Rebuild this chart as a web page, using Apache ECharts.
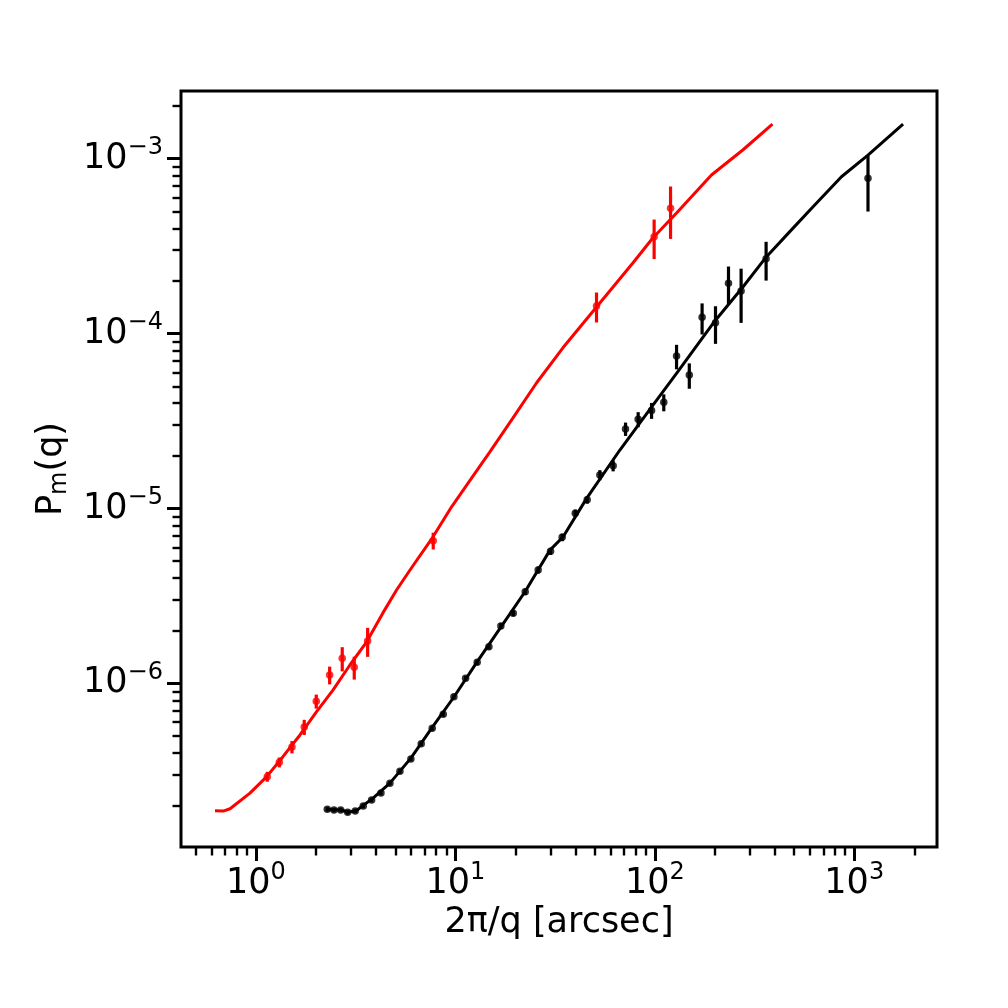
<!DOCTYPE html>
<html>
<head>
<meta charset="utf-8">
<script src="https://cdn.jsdelivr.net/npm/echarts@6/dist/echarts.min.js"></script>
<style>
  html, body { margin: 0; padding: 0; background: #fff; }
  #chart { width: 1008px; height: 1008px; }
</style>
</head>
<body>
<div id="chart"></div>
<script>
// model curves
const redLineX = [0.623, 0.686, 0.741, 0.933, 1.132, 1.365, 1.662, 2.014, 2.432, 2.958, 3.59, 4.33, 5.07, 5.92, 7.71, 9.57, 12.05, 14.89, 19.41, 25.5, 34.6, 53.0, 77.6, 97.7, 128.5, 192.3, 276.1, 389]
const redLineY = [1.87e-7, 1.862e-7, 1.92e-7, 2.36e-7, 2.93e-7, 3.81e-7, 5.07e-7, 6.89e-7, 9.16e-7, 1.274e-6, 1.73e-6, 2.53e-6, 3.42e-6, 4.45e-6, 6.87e-6, 1.023e-5, 1.493e-5, 2.11e-5, 3.29e-5, 5.22e-5, 8.3e-5, 1.496e-4, 2.535e-4, 3.52e-4, 4.9e-4, 8.07e-4, 1.122e-3, 1.578e-3]

const blackLineX = [2.27, 2.667, 2.891, 3.17, 3.477, 3.815, 4.695, 5.98, 7.62, 9.83, 12.82, 16.9, 22.3, 29.8, 34.7, 45.5, 66.8, 98.1, 128.5, 195.9, 277.1, 363.1, 475.1, 621.5, 862.9, 1172, 1757]
const blackLineY = [1.9e-7, 1.89e-7, 1.84e-7, 1.865e-7, 2.02e-7, 2.18e-7, 2.69e-7, 3.74e-7, 5.56e-7, 8.36e-7, 1.324e-6, 2.1e-6, 3.33e-6, 5.78e-6, 6.9e-6, 1.143e-5, 2.16e-5, 3.91e-5, 5.93e-5, 1.146e-4, 1.853e-4, 2.754e-4, 3.83e-4, 5.31e-4, 7.89e-4, 1.05e-3, 1.579e-3]

// measured points with 1-sigma errors
const redX = [1.139, 1.309, 1.515, 1.746, 2.006, 2.341, 2.707, 3.11, 3.63, 7.74, 51.0, 99.2, 119.9]
const redY = [2.93e-7, 3.54e-7, 4.33e-7, 5.63e-7, 7.9e-7, 1.117e-6, 1.391e-6, 1.236e-6, 1.748e-6, 6.55e-6, 1.438e-4, 3.58e-4, 5.21e-4]
const redErr = [1.9e-8, 2.3e-8, 3.5e-8, 5.6e-8, 7.3e-8, 1.3e-7, 2.2e-7, 1.85e-7, 3.3e-7, 7.2e-7, 2.8e-5, 9.1e-5, 1.73e-4]

const blackX = [2.278, 2.46, 2.659, 2.882, 3.146, 3.451, 3.8, 4.233, 4.695, 5.27, 5.98, 6.74, 7.65, 8.69, 9.83, 11.25, 12.86, 14.72, 16.9, 19.5, 22.39, 26.0, 30.0, 34.3, 39.9, 45.8, 53.0, 61.8, 71.3, 82.5, 96.3, 110.9, 128.5, 148.9, 172.6, 201.5, 234.1, 270.8, 361.4, 1172]
const blackY = [1.905e-7, 1.888e-7, 1.888e-7, 1.832e-7, 1.865e-7, 1.99e-7, 2.155e-7, 2.36e-7, 2.685e-7, 3.143e-7, 3.7e-7, 4.51e-7, 5.54e-7, 6.66e-7, 8.4e-7, 1.069e-6, 1.32e-6, 1.62e-6, 2.13e-6, 2.52e-6, 3.34e-6, 4.45e-6, 5.69e-6, 6.84e-6, 9.39e-6, 1.122e-5, 1.554e-5, 1.758e-5, 2.85e-5, 3.236e-5, 3.634e-5, 4.046e-5, 7.44e-5, 5.8e-5, 1.239e-4, 1.154e-4, 1.939e-4, 1.752e-4, 2.68e-4, 7.73e-4]
const blackErr = [5.7e-9, 5.7e-9, 5.7e-9, 5.5e-9, 5.6e-9, 6e-9, 6.5e-9, 7e-9, 8e-9, 1e-8, 1.1e-8, 1.4e-8, 1.7e-8, 2e-8, 2.5e-8, 3.5e-8, 4.5e-8, 6e-8, 8e-8, 1e-7, 1.4e-7, 2e-7, 2.6e-7, 3.4e-7, 4.7e-7, 5.6e-7, 1.03e-6, 1.27e-6, 2.5e-6, 3.2e-6, 3.8e-6, 4.5e-6, 1.19e-5, 9.6e-6, 2.5e-5, 2.8e-5, 4.8e-5, 6e-5, 6.7e-5, 2.74e-4]

// axes
const xLimits = [0.4207, 2600]
const yLimits = [1.16e-7, 2.44e-3]
const xMajorTicks = [1, 10, 100, 1000]
const yMajorTicks = [1e-6, 1e-5, 1e-4, 1e-3]
const mantissas = [2, 3, 4, 5, 6, 7, 8, 9]

const FONT = 'DejaVu Sans'
const lg = Math.log10

function minorTicks (lim) {
  const out = []
  for (let d = Math.floor(lg(lim[0])); d <= Math.ceil(lg(lim[1])); d++) {
    mantissas.forEach(m => {
      const v = m * Math.pow(10, d)
      if (v >= lim[0] && v <= lim[1]) out.push(lg(v))
    })
  }
  return out
}

function powLabel (v) {
  const e = Math.round(v)
  return '{b|10}{s|' + (e < 0 ? '\u2212' + (-e) : e) + '}'
}

const labelRich = {
  b: { fontSize: 35, fontFamily: FONT, color: '#000' },
  s: { fontSize: 24, fontFamily: FONT, color: '#000', padding: [0, 0, 21, 0] }
}

function pairs (xs, ys) {
  return xs.map((x, i) => [lg(x), lg(ys[i])])
}

function errData (xs, ys, es) {
  return xs.map((x, i) => [lg(x), lg(ys[i] - es[i]), lg(ys[i] + es[i])])
}

function errRender (color) {
  return function (params, api) {
    const p1 = api.coord([api.value(0), api.value(1)])
    const p2 = api.coord([api.value(0), api.value(2)])
    return {
      type: 'line',
      shape: { x1: p1[0], y1: p1[1], x2: p2[0], y2: p2[1] },
      style: { stroke: color, lineWidth: 3.2 }
    }
  }
}

function axisPair (dim, lim, major, name) {
  const base = {
    type: 'value',
    min: lg(lim[0]),
    max: lg(lim[1]),
    position: dim === 'x' ? 'bottom' : 'left',
    axisLine: { show: false, onZero: false },
    splitLine: { show: false }
  }
  const main = Object.assign({}, base, {
    axisTick: { show: true, length: 14, customValues: major.map(lg), lineStyle: { color: '#000', width: 3 } },
    axisLabel: {
      customValues: major.map(lg),
      formatter: powLabel,
      rich: labelRich,
      margin: dim === 'x' ? 14 : 18
    }
  }, name)
  const minor = Object.assign({}, base, {
    axisTick: { show: true, length: 8.5, customValues: minorTicks(lim), lineStyle: { color: '#000', width: 2.4 } },
    axisLabel: { show: false }
  })
  return [main, minor]
}

const option = {
  animation: false,
  backgroundColor: '#fff',
  textStyle: { fontFamily: FONT },
  grid: {
    left: 181,
    top: 91,
    width: 756,
    height: 756,
    show: true,
    borderColor: '#000',
    borderWidth: 3
  },
  xAxis: axisPair('x', xLimits, xMajorTicks, {
    name: '2\u03c0/q [arcsec]',
    nameLocation: 'middle',
    nameGap: 57,
    nameTextStyle: { fontSize: 35, fontFamily: FONT, color: '#000' }
  }),
  yAxis: axisPair('y', yLimits, yMajorTicks, {
    name: '{p|P}{m|m}{p|(q)}',
    nameLocation: 'middle',
    nameRotate: 90,
    nameGap: 108,
    nameTextStyle: {
      rich: {
        p: { fontSize: 35, fontFamily: FONT, color: '#000' },
        m: { fontSize: 24, fontFamily: FONT, color: '#000', padding: [17, 0, 0, 0] }
      }
    }
  }),
  series: [
    {
      type: 'line',
      data: pairs(redLineX, redLineY),
      showSymbol: false,
      lineStyle: { color: '#ff0000', width: 3 },
      z: 2
    },
    {
      type: 'line',
      data: pairs(blackLineX, blackLineY),
      showSymbol: false,
      lineStyle: { color: '#000', width: 3 },
      z: 2
    },
    {
      type: 'custom',
      data: errData(redX, redY, redErr),
      renderItem: errRender('#ff0000'),
      z: 3
    },
    {
      type: 'custom',
      data: errData(blackX, blackY, blackErr),
      renderItem: errRender('#000'),
      z: 3
    },
    {
      type: 'scatter',
      data: pairs(redX, redY),
      symbolSize: 7.5,
      itemStyle: { color: '#ff0000' },
      z: 4
    },
    {
      type: 'scatter',
      data: pairs(blackX, blackY),
      symbolSize: 7.5,
      itemStyle: { color: '#000' },
      z: 4
    }
  ]
}

const myChart = echarts.init(document.getElementById('chart'), null, { renderer: 'canvas' })
myChart.setOption(option)
</script>
</body>
</html>
